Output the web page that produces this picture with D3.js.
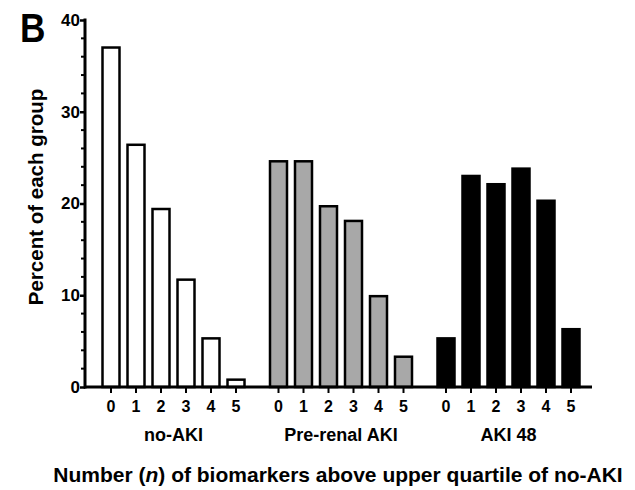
<!DOCTYPE html>
<html><head><meta charset="utf-8">
<script src="https://cdn.jsdelivr.net/npm/d3@7"></script>
<style>body{margin:0;background:#fff}</style>
</head><body>
<svg id="c" width="635" height="490"></svg>
<script>
const groups = ["no-AKI", "Pre-renal AKI", "AKI 48"];
const nLabels = ["0", "1", "2", "3", "4", "5"];
const noAKI = [37.0, 26.4, 19.4, 11.7, 5.3, 0.8];
const preRenal = [24.6, 24.6, 19.7, 18.1, 9.9, 3.3];
const aki48 = [5.3, 23.0, 22.1, 23.8, 20.3, 6.3];
const fills = ["#ffffff", "#a8a8a8", "#000000"];
const yTicks = [0, 10, 20, 30, 40];

const series = [noAKI, preRenal, aki48];
const svg = d3.select("#c");
const font = "'Liberation Sans', Arial, sans-serif";
const gapSlots = 6.7;
const x = d3.scaleLinear().domain([-1.04, 19.24]).range([85, 592]);
const y = d3.scaleLinear().domain([0, 40]).range([387, 20]);
const pos = (g, i) => g * gapSlots + i;
const bw = 17;

// bars
series.forEach((vals, g) => {
  svg.append("g").selectAll("rect").data(vals).join("rect")
    .attr("x", (d, i) => x(pos(g, i)) - bw / 2)
    .attr("y", d => y(d))
    .attr("width", bw)
    .attr("height", d => y(0) - y(d))
    .attr("fill", fills[g])
    .attr("stroke", "#000")
    .attr("stroke-width", 2.5);
});

// y axis
const yAxis = d3.axisLeft(y).tickValues(yTicks).tickSize(5).tickPadding(0).tickFormat(d3.format("d"));
const ya = svg.append("g").attr("transform", "translate(85,0)").call(yAxis);
ya.select(".domain").attr("stroke-width", 3).attr("d", "M0,18.5V388.5");
ya.selectAll(".tick line").attr("stroke-width", 2.5);
ya.selectAll(".tick text").attr("font-family", font).attr("font-weight", "bold").attr("font-size", 17).attr("fill", "#000");
const minor = d3.range(0, 41, 2).filter(v => v % 10 !== 0);
svg.append("g").selectAll("line").data(minor).join("line")
  .attr("x1", 85).attr("x2", 81).attr("y1", d => y(d)).attr("y2", d => y(d))
  .attr("stroke", "#000").attr("stroke-width", 2);

// x axis
svg.append("line").attr("x1", 84).attr("x2", 592).attr("y1", y(0)).attr("y2", y(0))
  .attr("stroke", "#000").attr("stroke-width", 3);
groups.forEach((gname, g) => {
  const xg = svg.append("g");
  nLabels.forEach((lab, i) => {
    const cx = x(pos(g, i));
    xg.append("line").attr("x1", cx).attr("x2", cx).attr("y1", y(0)).attr("y2", y(0) + 6)
      .attr("stroke", "#000").attr("stroke-width", 2);
    xg.append("text").attr("x", cx).attr("y", 411.5).attr("text-anchor", "middle")
      .attr("font-family", font).attr("font-weight", "bold").attr("font-size", 16).text(lab);
  });
  const center = x(pos(g, 2.5));
  svg.append("text").attr("x", center).attr("y", 440.5).attr("text-anchor", "middle")
    .attr("font-family", font).attr("font-weight", "bold").attr("font-size", 18).text(gname);
});

// axis titles
svg.append("text").attr("transform", "translate(43,197) rotate(-90)").attr("text-anchor", "middle")
  .attr("font-family", font).attr("font-weight", "bold").attr("font-size", 20.5).text("Percent of each group");
const t = svg.append("text").attr("x", 338).attr("y", 482).attr("text-anchor", "middle")
  .attr("font-family", font).attr("font-weight", "bold").attr("font-size", 21);
t.append("tspan").text("Number (");
t.append("tspan").attr("font-style", "italic").text("n");
t.append("tspan").text(") of biomarkers above upper quartile of no-AKI");

// panel letter
svg.append("text").attr("transform", "translate(20,42) scale(0.86,1)").attr("font-family", font).attr("font-weight", "bold")
  .attr("font-size", 41).text("B");
</script>
</body></html>
